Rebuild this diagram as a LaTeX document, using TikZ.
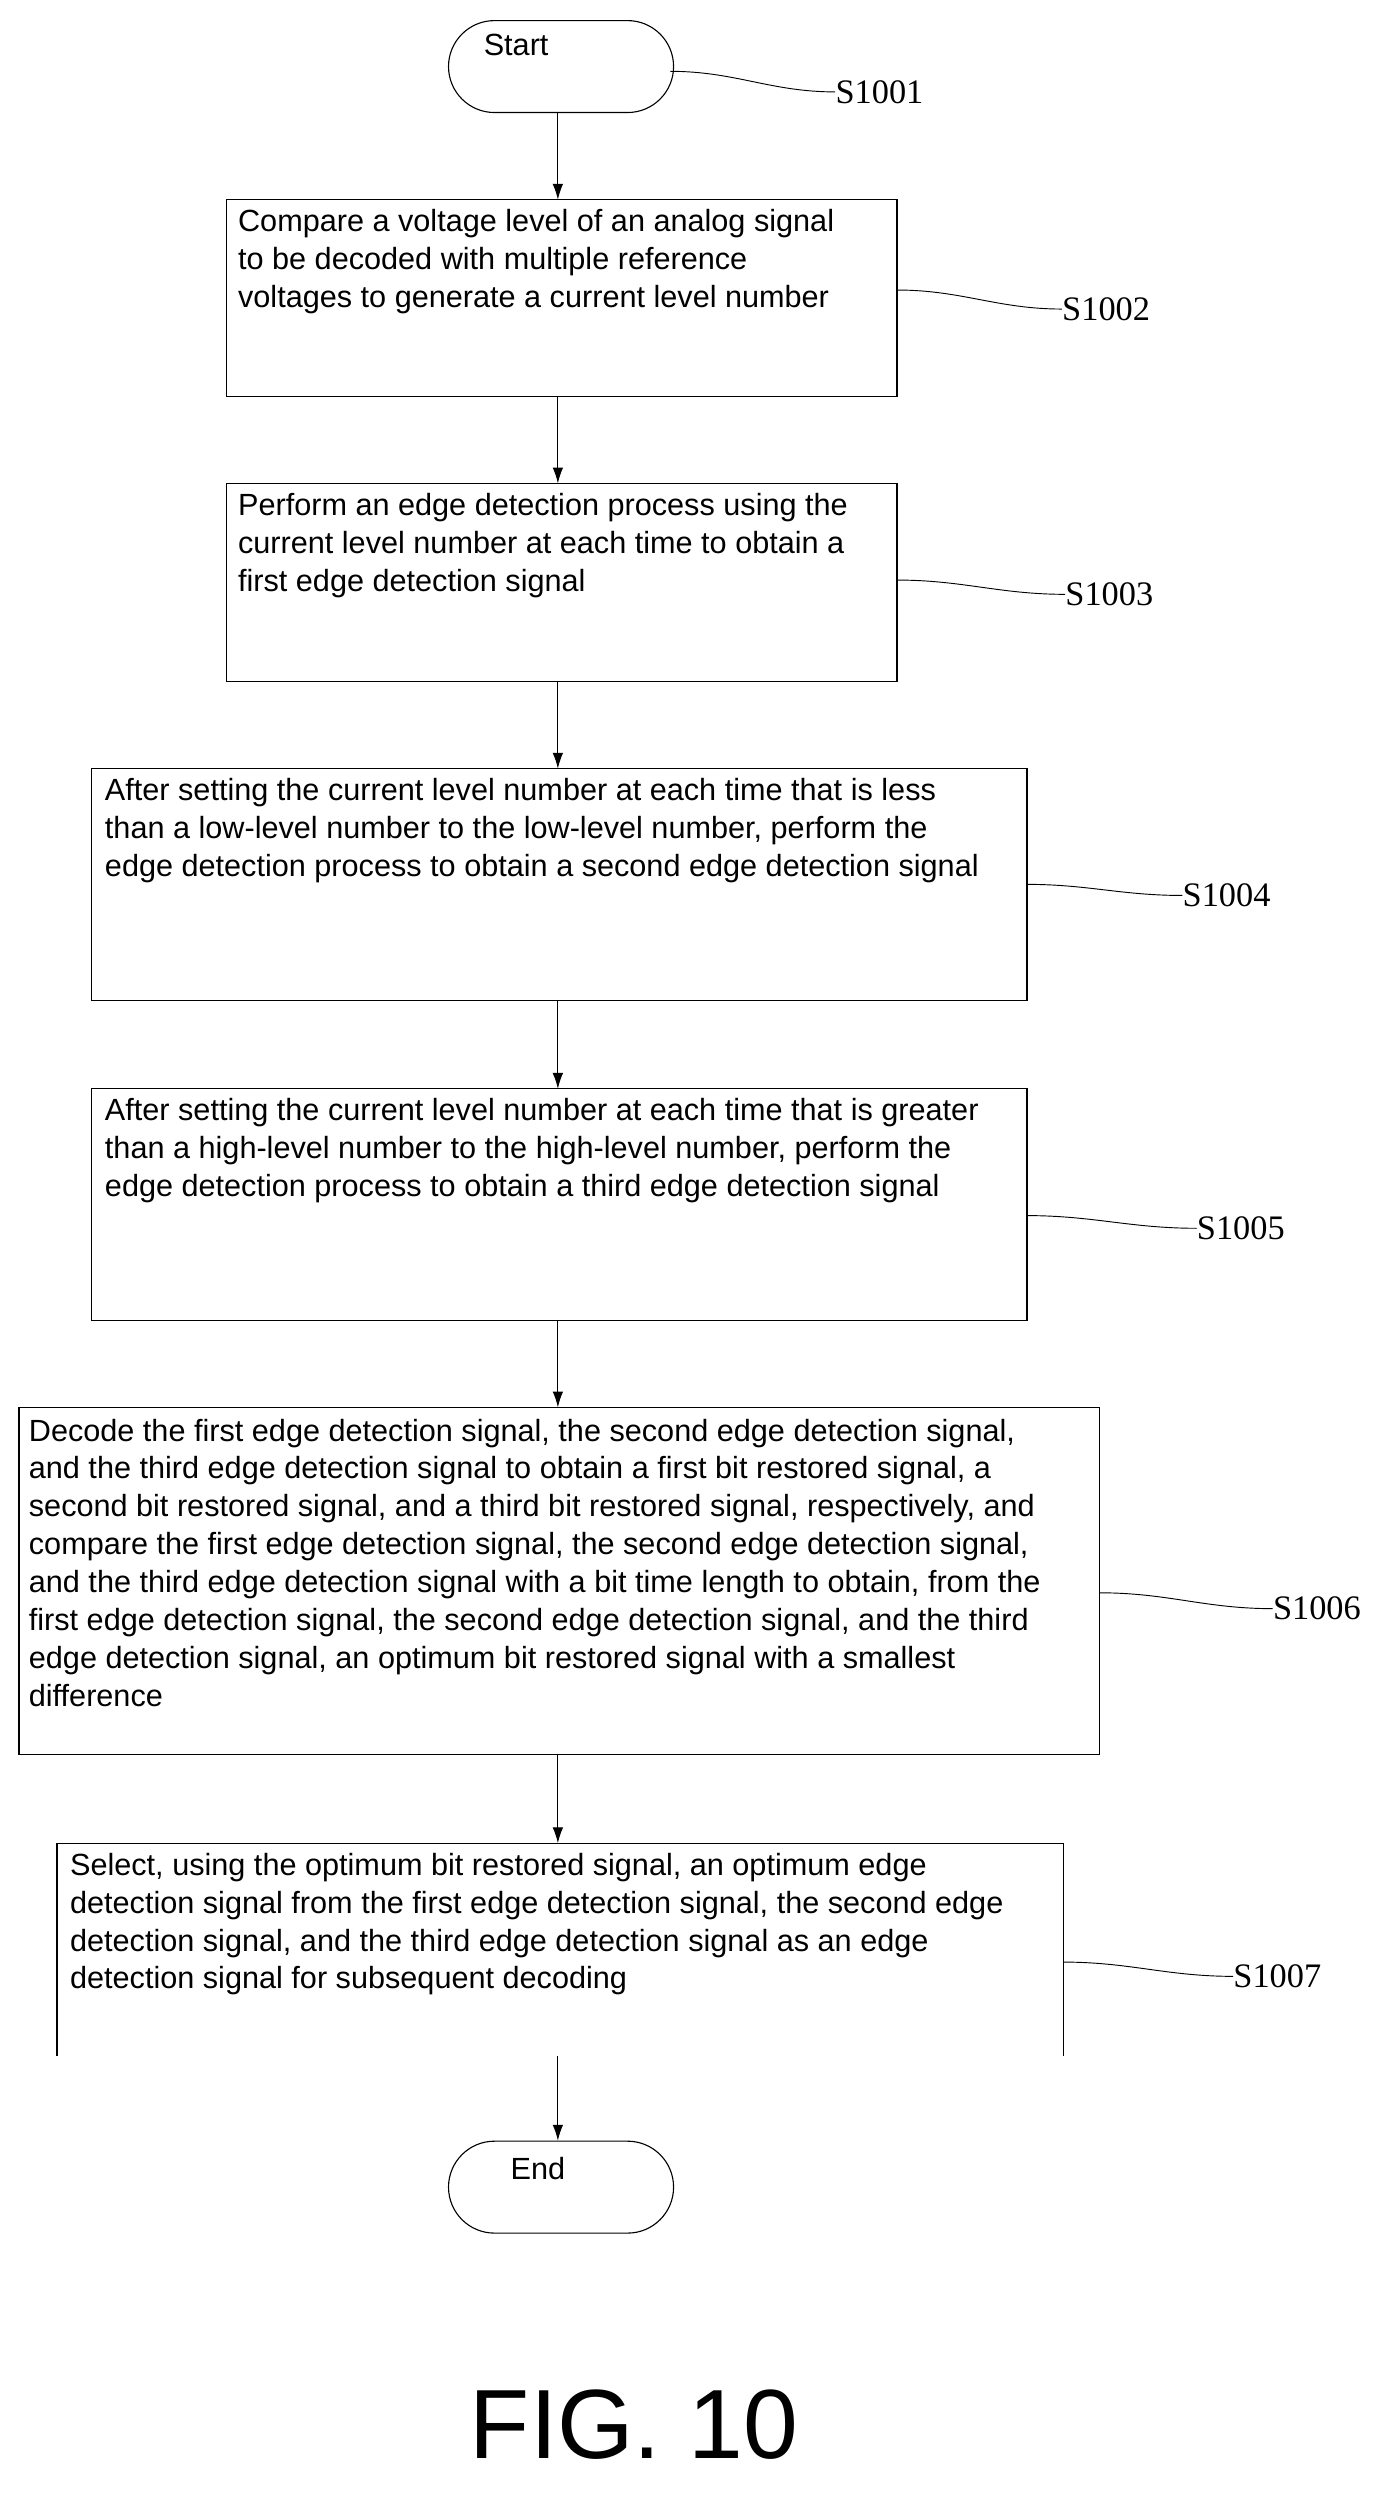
\documentclass[tikz,border=0pt]{standalone}
\usepackage{fontspec}
\setmainfont{Liberation Sans}
\newfontfamily\labelfont{Liberation Serif}
\usetikzlibrary{arrows.meta, positioning, shapes.misc}

\begin{document}
\begin{tikzpicture}[
    x=0.03cm, y=-0.03cm,
    every node/.style={inner sep=0pt},
    stepbox/.style={draw, line width=0.6pt},
    steptext/.style={anchor=north west, align=left, font=\fontsize{16.5}{20.4}\selectfont},
    terminal/.style={draw, rounded rectangle, minimum width=4.26cm, minimum height=1.74cm, line width=0.6pt},
    steplabel/.style={anchor=west, font=\labelfont\fontsize{18.5}{21}\selectfont},
    flow/.style={-{Latex[length=3mm, width=2mm]}, line width=0.6pt},
    squiggle/.style={line width=0.5pt},
]
\useasboundingbox (0,0) rectangle (880,1573);

% terminals
\node[terminal] (start) at (354,42) {};
\node[anchor=north west, font=\fontsize{16.5}{20}\selectfont] at (305,21) {Start};
\node[terminal] (end) at (354,1380) {};
\node[anchor=north west, font=\fontsize{16.5}{20}\selectfont] at (322,1361) {End};

% process steps
\draw[stepbox] (143,126) rectangle (566,250);
\draw[stepbox] (143,305) rectangle (566,430);
\draw[stepbox] (58,485) rectangle (648,631);
\draw[stepbox] (58,687) rectangle (648,833);
\draw[stepbox] (12,888) rectangle (694,1107);
\draw[stepbox] (36,1297) -- (36,1163) -- (671,1163) -- (671,1297);

\node[steptext] (t1) at (150,132) {Compare a voltage level of an analog signal\\to be decoded with multiple reference\\voltages to generate a current level number};
\node[steptext] (t2) at (150,311) {Perform an edge detection process using the\\current level number at each time to obtain a\\first edge detection signal};
\node[steptext] (t3) at (66,491) {After setting the current level number at each time that is less\\than a low-level number to the low-level number, perform the\\edge detection process to obtain a second edge detection signal};
\node[steptext] (t4) at (66,693) {After setting the current level number at each time that is greater\\than a high-level number to the high-level number, perform the\\edge detection process to obtain a third edge detection signal};
\node[steptext] (t5) at (18,895) {Decode the first edge detection signal, the second edge detection signal,\\and the third edge detection signal to obtain a first bit restored signal, a\\second bit restored signal, and a third bit restored signal, respectively, and\\compare the first edge detection signal, the second edge detection signal,\\and the third edge detection signal with a bit time length to obtain, from the\\first edge detection signal, the second edge detection signal, and the third\\edge detection signal, an optimum bit restored signal with a smallest\\difference};
\node[steptext] (t6) at (44,1169) {Select, using the optimum bit restored signal, an optimum edge\\detection signal from the first edge detection signal, the second edge\\detection signal, and the third edge detection signal as an edge\\detection signal for subsequent decoding};

% connectors
\coordinate (a1) at (352,126); \coordinate (z1) at (352,250);
\coordinate (a2) at (352,305); \coordinate (z2) at (352,430);
\coordinate (a3) at (352,485); \coordinate (z3) at (352,631);
\coordinate (a4) at (352,687); \coordinate (z4) at (352,833);
\coordinate (a5) at (352,888); \coordinate (z5) at (352,1107);
\coordinate (a6) at (352,1163); \coordinate (z6) at (352,1297);
\draw[flow] (start.south -| a1) -- (a1);
\draw[flow] (z1) -- (a2);
\draw[flow] (z2) -- (a3);
\draw[flow] (z3) -- (a4);
\draw[flow] (z4) -- (a5);
\draw[flow] (z5) -- (a6);
\draw[flow] (z6) -- (end.north -| z6);

% step labels
\node[steplabel] (s1) at (527,58) {S1001};
\node[steplabel] (s2) at (670,195) {S1002};
\node[steplabel] (s3) at (672,375) {S1003};
\node[steplabel] (s4) at (746,565) {S1004};
\node[steplabel] (s5) at (755,775) {S1005};
\node[steplabel] (s6) at (803,1015) {S1006};
\node[steplabel] (s7) at (778,1247) {S1007};
\draw[squiggle] (423,45) to[out=0,in=180] (s1.west);
\draw[squiggle] (566,183) to[out=0,in=180] (s2.west);
\draw[squiggle] (566,366) to[out=0,in=180] (s3.west);
\draw[squiggle] (648,558) to[out=0,in=180] (s4.west);
\draw[squiggle] (648,767) to[out=0,in=180] (s5.west);
\draw[squiggle] (694,1005) to[out=0,in=180] (s6.west);
\draw[squiggle] (671,1238) to[out=0,in=180] (s7.west);

\node[font=\fontsize{53}{60}\selectfont] (fig) at (400,1530) {FIG. 10};
\end{tikzpicture}
\end{document}
